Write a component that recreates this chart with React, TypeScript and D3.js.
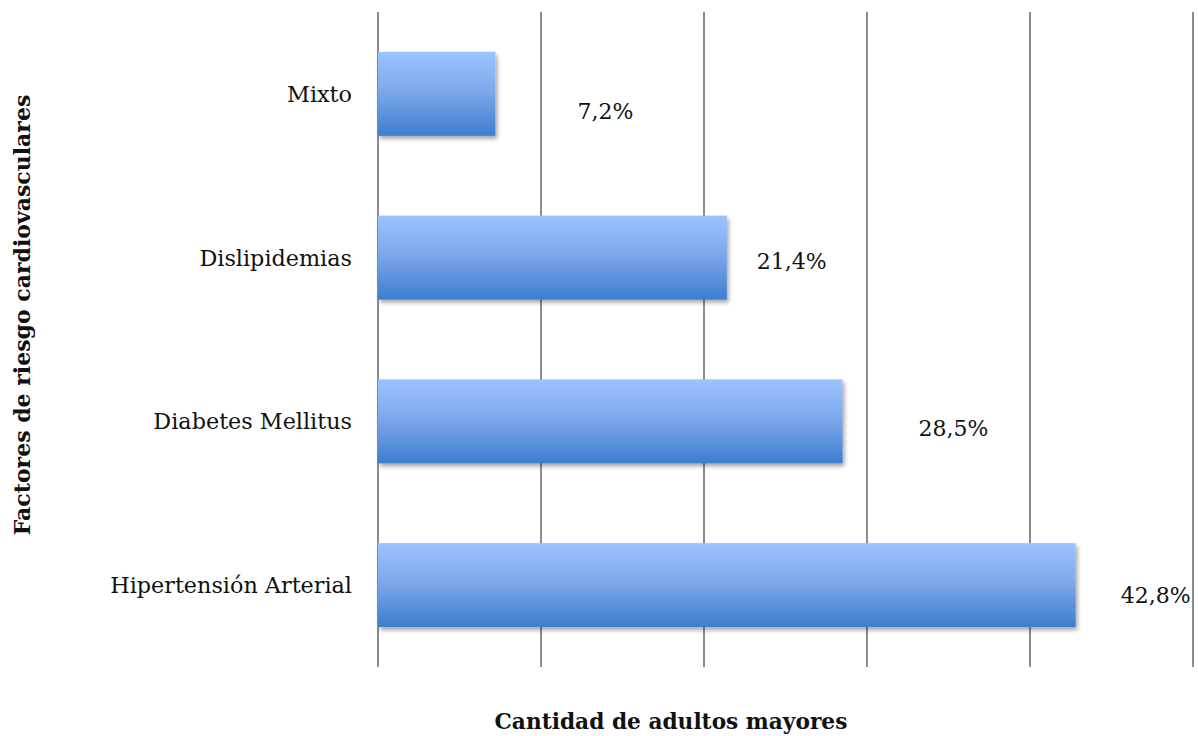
import React from "react";
import * as d3 from "d3";

const categories = ["Mixto", "Dislipidemias", "Diabetes Mellitus", "Hipertensión Arterial"];
const values = [7.2, 21.4, 28.5, 42.8];
const valueLabels = ["7,2%", "21,4%", "28,5%", "42,8%"];
const xTicks = [0, 10, 20, 30, 40, 50];

// layout-only label offsets (relative to bar end / band centre)
const labelDx = [110, 65, 111, 80];
const labelDy = [18, 4, 7, 10];

const W = 1198;
const H = 736;
const M = { left: 378, right: 5, top: 12, bottom: 69 };
const FONT = "'DejaVu Serif', 'Liberation Serif', serif";

export default function App() {
  const x = d3.scaleLinear().domain([0, 50]).range([M.left, W - M.right]);
  const y = d3
    .scaleBand<string>()
    .domain(categories)
    .range([M.top, H - M.bottom])
    .paddingInner(0.487)
    .paddingOuter(0.2435);

  return (
    <svg width={W} height={H} style={{ position: "absolute", left: 0, top: 0, background: "#fff" }}>
      <defs>
        <linearGradient id="barGrad" x1="0" y1="0" x2="0" y2="1">
          <stop offset="0%" stopColor="#9DC3FF" />
          <stop offset="45%" stopColor="#7FA9EC" />
          <stop offset="100%" stopColor="#3E7DCE" />
        </linearGradient>
        <filter id="shadow" x="-5%" y="-10%" width="115%" height="130%">
          <feGaussianBlur in="SourceAlpha" stdDeviation="2" />
          <feOffset dx="2" dy="3" result="o" />
          <feComponentTransfer>
            <feFuncA type="linear" slope="0.35" />
          </feComponentTransfer>
          <feMerge>
            <feMergeNode />
            <feMergeNode in="SourceGraphic" />
          </feMerge>
        </filter>
      </defs>
      {xTicks.map((t) => (
        <line
          key={t}
          x1={x(t)}
          x2={x(t)}
          y1={M.top}
          y2={H - M.bottom}
          stroke="#8c8c8c"
          strokeWidth={2}
        />
      ))}
      {categories.map((c, i) => {
        const yb = y(c)!;
        const bw = y.bandwidth();
        const cy = yb + bw / 2;
        const band = y.step();
        const bandCenter = M.top + band * (i + 0.5);
        return (
          <g key={c}>
            <rect
              x={x(0)}
              y={yb}
              width={x(values[i]) - x(0)}
              height={bw}
              fill="url(#barGrad)"
              filter="url(#shadow)"
            />
            <text
              x={352}
              y={cy}
              textAnchor="end"
              dominantBaseline="central"
              fontFamily={FONT}
              fontSize={22.3}
              fill="#111"
            >
              {c}
            </text>
            <text
              x={x(values[i]) + labelDx[i]}
              y={bandCenter + labelDy[i]}
              textAnchor="middle"
              dominantBaseline="central"
              fontFamily={FONT}
              fontSize={22}
              fill="#111"
            >
              {valueLabels[i]}
            </text>
          </g>
        );
      })}
      <text
        x={671}
        y={721}
        textAnchor="middle"
        dominantBaseline="central"
        fontFamily={FONT}
        fontWeight="bold"
        fontSize={21.7}
        fill="#111"
      >
        Cantidad de adultos mayores
      </text>
      <text
        transform={`translate(22,315) rotate(-90)`}
        textAnchor="middle"
        dominantBaseline="central"
        fontFamily={FONT}
        fontWeight="bold"
        fontSize={22}
        fill="#111"
      >
        Factores de riesgo cardiovasculares
      </text>
    </svg>
  );
}
